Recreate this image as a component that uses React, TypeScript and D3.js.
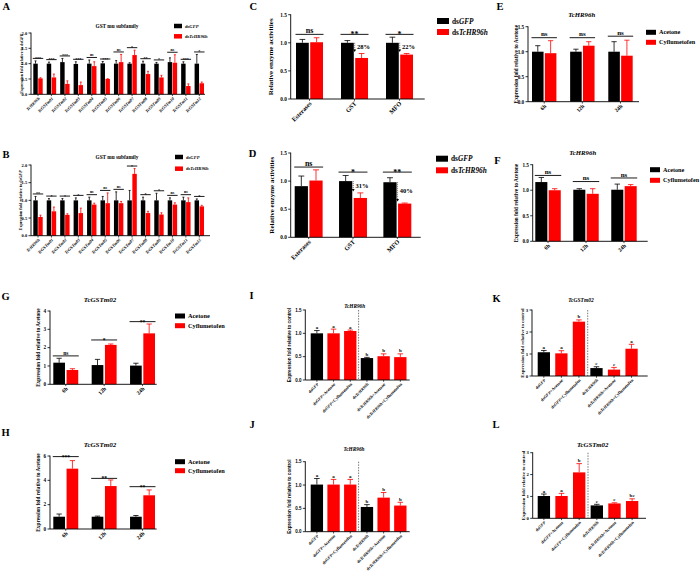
import React from "react";
import * as d3 from "d3";

const SERIF = "'Liberation Serif','Times New Roman',serif";
const SANS = "'Liberation Sans',Arial,sans-serif";
const BLACK = "#000000";
const RED = "#ff0000";

// ---------- Data ----------
const gstCategories = ["TcHR96h", "TcGSTm01", "TcGSTm02", "TcGSTm03", "TcGSTm04", "TcGSTm05", "TcGSTm06", "TcGSTm07", "TcGSTm08", "TcGSTm09", "TcGSTm10", "TcGSTm11", "TcGSTm12"];
const aGFP = [1.0, 1.0, 1.05, 0.99, 1.0, 1.01, 1.0, 1.0, 1.0, 1.0, 1.05, 1.0, 1.0];
const aGFPErr = [0.09, 0.05, 0.12, 0.07, 0.12, 0.06, 0.1, 0.03, 0.08, 0.04, 0.14, 0.06, 0.3];
const aKD = [0.52, 0.55, 0.34, 0.3, 0.92, 0.5, 1.05, 1.28, 0.66, 0.55, 1.03, 0.27, 0.36];
const aKDErr = [0.02, 0.11, 0.1, 0.1, 0.14, 0.01, 0.25, 0.16, 0.09, 0.07, 0.26, 0.07, 0.04];
const aSig = ["***", "***", "***", "***", "ns", "***", "ns", "*", "**", "*", "ns", "***", "*"];

const bGFP = [1.0, 1.0, 1.0, 1.0, 1.0, 1.0, 1.0, 1.0, 1.0, 1.0, 1.0, 1.0, 1.0];
const bGFPErr = [0.11, 0.05, 0.05, 0.07, 0.09, 0.11, 0.24, 0.28, 0.09, 0.2, 0.07, 0.09, 0.04];
const bKD = [0.53, 0.69, 0.59, 0.64, 0.88, 0.92, 0.92, 1.75, 0.64, 0.6, 0.88, 0.95, 0.83];
const bKDErr = [0.05, 0.12, 0.03, 0.14, 0.04, 0.29, 0.05, 0.15, 0.05, 0.05, 0.05, 0.12, 0.03];
const bSig = ["**", "*", "*", "*", "ns", "ns", "ns", "*", "*", "*", "ns", "ns", "*"];

const enzymeCategories = ["Esterases", "GST", "MFO"];
const cGFP = [1.0, 1.0, 1.0];
const cGFPErr = [0.06, 0.04, 0.1];
const cKD = [1.01, 0.73, 0.79];
const cKDErr = [0.08, 0.08, 0.02];
const cSig = ["ns", "**", "*"];
const cSigY = [1.15, 1.15, 1.15];
const cPct = ["", "28%", "22%"];

const dGFP = [0.91, 1.0, 0.98];
const dGFPErr = [0.18, 0.1, 0.08];
const dKD = [1.01, 0.7, 0.6];
const dKDErr = [0.19, 0.09, 0.01];
const dSig = ["ns", "*", "**"];
const dSigY = [1.25, 1.16, 1.16];
const dPct = ["", "31%", "40%"];

const timeCategories = ["6h", "12h", "24h"];
const eAcetone = [1.0, 1.0, 1.0];
const eAcetoneErr = [0.12, 0.05, 0.2];
const eCyf = [0.97, 1.12, 0.92];
const eCyfErr = [0.25, 0.08, 0.31];
const eSig = ["ns", "ns", "ns"];
const eSigY = [1.28, 1.28, 1.31];

const fAcetone = [1.16, 1.01, 1.01];
const fAcetoneErr = [0.09, 0.02, 0.11];
const fCyf = [1.0, 0.93, 1.08];
const fCyfErr = [0.03, 0.1, 0.03];
const fSig = ["ns", "ns", "ns"];
const fSigY = [1.29, 1.17, 1.24];

const gAcetone = [1.18, 1.05, 1.02];
const gAcetoneErr = [0.24, 0.31, 0.13];
const gCyf = [0.78, 2.15, 2.78];
const gCyfErr = [0.07, 0.05, 0.51];
const gSig = ["ns", "*", "**"];
const gSigY = [1.55, 2.42, 3.42];

const hAcetone = [1.01, 1.01, 1.01];
const hAcetoneErr = [0.22, 0.05, 0.1];
const hCyf = [4.96, 3.53, 2.77];
const hCyfErr = [0.66, 0.5, 0.44];
const hSig = ["***", "**", "**"];
const hSigY = [5.95, 4.16, 3.48];

const rescueCategories = ["dsGFP", "dsGFP+Acetone", "dsGFP+Cyflumetofen", "dsTcHR96h", "dsTcHR96h+Acetone", "dsTcHR96h+Cyflumetofen"];
const iValues = [1.0, 1.0, 1.05, 0.47, 0.51, 0.49];
const iErr = [0.06, 0.09, 0.02, 0.015, 0.05, 0.07];
const iLetters = ["a", "a", "a", "b", "b", "b"];
const jValues = [1.01, 1.01, 1.01, 0.53, 0.73, 0.56];
const jErr = [0.13, 0.11, 0.11, 0.05, 0.11, 0.07];
const jLetters = ["a", "a", "a", "b", "b", "b"];
const kValues = [1.08, 1.03, 2.47, 0.36, 0.29, 1.24];
const kErr = [0.08, 0.12, 0.08, 0.06, 0.1, 0.2];
const kLetters = ["a", "a", "b", "c", "c", "a"];
const lValues = [1.02, 1.02, 2.1, 0.59, 0.68, 0.79];
const lErr = [0.09, 0.12, 0.4, 0.05, 0.03, 0.1];
const lLetters = ["a", "a", "b", "c", "c", "bc"];

const ticks2 = [0, 0.5, 1, 1.5, 2];
const ticks15 = [0, 0.5, 1, 1.5];
const ticks4 = [0, 1, 2, 3, 4];
const ticks6 = [0, 2, 4, 6];
const ticks3 = [0, 1, 2, 3];

// ---------- helpers ----------
const ITAL = /^(GFP|TcHR96h|TcGSTm\d+)$/;
function rich(s: string) {
  return s
    .split(/(GFP|TcHR96h|TcGSTm\d+)/)
    .filter((p) => p !== "")
    .map((p, i) =>
      ITAL.test(p) ? (
        <tspan key={i} fontStyle="italic">{p}</tspan>
      ) : (
        <tspan key={i}>{p}</tspan>
      )
    );
}

interface SeriesCfg { name: string; values: number[]; errors: number[]; color?: string }
interface PanelCfg {
  key: string;
  letter: string; letterX: number; letterY: number;
  title?: string; titleX?: number; titleY?: number; titleSize?: number;
  x0: number; x1: number; bx0: number; bx1: number; yTop: number; yBot: number;
  yMax: number; ticks: number[]; tickFmt: string; tickSize: number; tickFont?: string;
  yLabel: string; yLabelX: number; yLabelSize: number; yLabelFont?: string;
  categories: string[]; catSize: number; catItalicAll?: boolean;
  series: SeriesCfg[]; padInner: number; padSeries?: number;
  sig?: string[]; sigY?: number[]; sigSize?: number;
  letters?: string[]; lettersSize?: number;
  divider?: boolean;
  pct?: string[]; pctSize?: number;
  legend?: { x: number; y: number; gap: number; w: number; h: number; size: number };
}

function Panel({ c }: { c: PanelCfg }) {
  const y = d3.scaleLinear().domain([0, c.yMax]).range([c.yBot, c.yTop]);
  const x = d3.scaleBand<string>().domain(c.categories).range([c.bx0, c.bx1]).paddingInner(c.padInner).paddingOuter(0);
  const nS = c.series.length;
  const inner = d3
    .scaleBand<number>()
    .domain(d3.range(nS))
    .range([0, x.bandwidth()])
    .paddingInner(nS > 1 ? c.padSeries ?? 0.15 : 0);
  const fmt = d3.format(c.tickFmt);
  const tickFont = c.tickFont ?? SERIF;
  const colorOf = (s: SeriesCfg, cat: string) => s.color ?? (cat.includes("+") ? RED : BLACK);
  const bw = inner.bandwidth();
  const els: React.ReactNode[] = [];

  // bars + error bars
  c.categories.forEach((cat, i) => {
    c.series.forEach((s, si) => {
      const bx = (x(cat) as number) + (inner(si) as number);
      const v = s.values[i];
      const e = s.errors[i];
      const col = colorOf(s, cat);
      const cx = bx + bw / 2;
      const cap = Math.max(bw * 0.45, 2);
      els.push(<rect key={`b${i}-${si}`} x={bx} y={y(v)} width={bw} height={c.yBot - y(v)} fill={col} />);
      els.push(<line key={`e${i}-${si}`} x1={cx} x2={cx} y1={y(v)} y2={y(v + e)} stroke={col} strokeWidth={0.8} />);
      els.push(<line key={`c${i}-${si}`} x1={cx - cap / 2} x2={cx + cap / 2} y1={y(v + e)} y2={y(v + e)} stroke={col} strokeWidth={0.8} />);
      if (c.letters) {
        els.push(
          <text key={`l${i}`} x={cx} y={y(v + e) - 1.5} textAnchor="middle" fontSize={c.lettersSize} fontFamily={SERIF} fontWeight="bold">
            {c.letters[i]}
          </text>
        );
      }
    });
  });

  // significance lines
  if (c.sig) {
    c.categories.forEach((cat, i) => {
      const gx0 = x(cat) as number;
      const gx1 = gx0 + x.bandwidth();
      const topVal = d3.max(c.series, (s) => s.values[i] + s.errors[i]) as number;
      const ly = c.sigY ? y(c.sigY[i]) : y(topVal) - 2.5;
      const t = c.sig![i];
      const fs = c.sigSize ?? 6;
      els.push(<line key={`sl${i}`} x1={gx0 - 0.5} x2={gx1 + 0.5} y1={ly} y2={ly} stroke={BLACK} strokeWidth={0.9} />);
      els.push(
        <text key={`st${i}`} x={(gx0 + gx1) / 2} y={t === "ns" ? ly - 1.3 : ly + fs * 0.38} textAnchor="middle" fontSize={fs} fontFamily={SERIF} fontWeight="bold">
          {t}
        </text>
      );
    });
  }

  // percent arrows
  if (c.pct) {
    c.categories.forEach((cat, i) => {
      const t = c.pct![i];
      if (!t) return;
      const ax = (x(cat) as number) + (inner(1) as number) - 0.5;
      const y1 = y(c.series[0].values[i]);
      const y2 = y(c.series[1].values[i] + c.series[1].errors[i]) - 1.5;
      els.push(<line key={`pa${i}`} x1={ax} x2={ax} y1={y1} y2={y2 - 2} stroke={BLACK} strokeWidth={0.6} strokeDasharray="1,1" />);
      els.push(<path key={`ph${i}`} d={`M${ax - 1.4},${y2 - 2.5}L${ax + 1.4},${y2 - 2.5}L${ax},${y2}Z`} fill={BLACK} />);
      els.push(
        <text key={`pt${i}`} x={ax + 2.3} y={(y1 + y2) / 2 - 1} dy="0.35em" fontSize={c.pctSize} fontFamily={SERIF} fontWeight="bold">
          {t}
        </text>
      );
    });
  }

  // divider
  if (c.divider) {
    const xa = (x(c.categories[2]) as number) + x.bandwidth();
    const xb = x(c.categories[3]) as number;
    const dx = (xa + xb) / 2;
    els.push(<line key="div" x1={dx} x2={dx} y1={y(c.yMax)} y2={c.yBot} stroke="#444" strokeWidth={0.7} strokeDasharray="1.5,1.2" />);
  }

  // axes
  const axis: React.ReactNode[] = [];
  axis.push(<line key="ya" x1={c.x0} x2={c.x0} y1={c.yTop - 0.4} y2={c.yBot} stroke={BLACK} strokeWidth={0.9} />);
  axis.push(<line key="xa" x1={c.x0} x2={c.x1} y1={c.yBot} y2={c.yBot} stroke={BLACK} strokeWidth={0.9} />);
  c.ticks.forEach((t, i) => {
    axis.push(<line key={`yt${i}`} x1={c.x0 - 2.5} x2={c.x0} y1={y(t)} y2={y(t)} stroke={BLACK} strokeWidth={0.8} />);
    axis.push(
      <text key={`yl${i}`} x={c.x0 - 3.8} y={y(t)} dy="0.35em" textAnchor="end" fontSize={c.tickSize} fontFamily={tickFont} fontWeight="bold">
        {fmt(t)}
      </text>
    );
  });
  c.categories.forEach((cat, i) => {
    const cx = (x(cat) as number) + x.bandwidth() / 2;
    axis.push(<line key={`xt${i}`} x1={cx} x2={cx} y1={c.yBot} y2={c.yBot + 1.8} stroke={BLACK} strokeWidth={0.7} />);
    const px = cx + 1;
    const py = c.yBot + 3.5;
    axis.push(
      <g key={`xl${i}`} transform={`translate(${px},${py}) rotate(-45)`}>
        <text
          x={0}
          y={0}
          dy="0.35em"
          textAnchor="end"
          fontSize={c.catSize}
          fontFamily={SERIF}
          fontWeight="bold"
          fontStyle={c.catItalicAll ? "italic" : "normal"}
        >
          {c.catItalicAll ? cat : rich(cat)}
        </text>
      </g>
    );
  });
  const ym = (c.yTop + c.yBot) / 2;
  axis.push(
    <g key="ylab" transform={`translate(${c.yLabelX},${ym}) rotate(-90)`}>
      <text x={0} y={0} dy="0.35em" textAnchor="middle" fontSize={c.yLabelSize} fontFamily={c.yLabelFont ?? SERIF} fontWeight="bold">
        {rich(c.yLabel)}
      </text>
    </g>
  );

  // legend
  const leg: React.ReactNode[] = [];
  if (c.legend) {
    const L = c.legend;
    c.series.forEach((s, si) => {
      const ly = L.y + si * L.gap;
      leg.push(<rect key={`lr${si}`} x={L.x} y={ly - L.h / 2} width={L.w} height={L.h} fill={s.color ?? BLACK} />);
      leg.push(
        <text key={`lt${si}`} x={L.x + L.w + 3} y={ly} dy="0.35em" fontSize={L.size} fontFamily={SERIF} fontWeight="bold">
          {rich(s.name)}
        </text>
      );
    });
  }

  return (
    <g>
      <text x={c.letterX} y={c.letterY} fontSize={10.5} fontFamily={SERIF} fontWeight="bold">
        {c.letter}
      </text>
      {c.title && (
        <text x={c.titleX} y={c.titleY} textAnchor="middle" fontSize={c.titleSize} fontFamily={SERIF} fontWeight="bold">
          {rich(c.title)}
        </text>
      )}
      {els}
      {axis}
      {leg}
    </g>
  );
}

// ---------- Panel configurations ----------
const panels: PanelCfg[] = [
  {
    key: "A", letter: "A", letterX: 2.5, letterY: 10,
    title: "GST mu subfamily", titleX: 117, titleY: 27.8, titleSize: 5.3,
    x0: 31, x1: 205, bx0: 33.3, bx1: 204, yTop: 33, yBot: 94.3, yMax: 2,
    ticks: ticks2, tickFmt: ".1f", tickSize: 4.5,
    yLabel: "Expression fold relative to dsGFP", yLabelX: 21.5, yLabelSize: 4.2,
    categories: gstCategories, catSize: 4.3, catItalicAll: true,
    series: [
      { name: "dsGFP", values: aGFP, errors: aGFPErr, color: BLACK },
      { name: "dsTcHR96h", values: aKD, errors: aKDErr, color: RED },
    ],
    padInner: 0.3, padSeries: 0.1, sig: aSig, sigSize: 4,
    legend: { x: 174, y: 26, gap: 10.3, w: 8, h: 4.5, size: 4.6 },
  },
  {
    key: "B", letter: "B", letterX: 2.5, letterY: 157.5,
    title: "GST mu subfamily", titleX: 117, titleY: 159, titleSize: 5.3,
    x0: 31, x1: 210, bx0: 33.3, bx1: 204, yTop: 165, yBot: 235.7, yMax: 2,
    ticks: ticks2, tickFmt: ".1f", tickSize: 4.5,
    yLabel: "Expression fold  relative to dsGFP", yLabelX: 20.7, yLabelSize: 4.2,
    categories: gstCategories, catSize: 4.3, catItalicAll: true,
    series: [
      { name: "dsGFP", values: bGFP, errors: bGFPErr, color: BLACK },
      { name: "dsTcHR96h", values: bKD, errors: bKDErr, color: RED },
    ],
    padInner: 0.3, padSeries: 0.1, sig: bSig, sigSize: 4,
    legend: { x: 175, y: 157, gap: 11.7, w: 8, h: 4.5, size: 4.6 },
  },
  {
    key: "C", letter: "C", letterX: 249.5, letterY: 9.5,
    x0: 290.7, x1: 424.7, bx0: 296, bx1: 413, yTop: 14.7, yBot: 99, yMax: 1.5,
    ticks: ticks15, tickFmt: ".1f", tickSize: 5.3,
    yLabel: "Relative enzyme activities", yLabelX: 270.7, yLabelSize: 7,
    categories: enzymeCategories, catSize: 6.3,
    series: [
      { name: "dsGFP", values: cGFP, errors: cGFPErr, color: BLACK },
      { name: "dsTcHR96h", values: cKD, errors: cKDErr, color: RED },
    ],
    padInner: 0.4, padSeries: 0.1, sig: cSig, sigY: cSigY, sigSize: 8,
    pct: cPct, pctSize: 6.5,
    legend: { x: 437, y: 21, gap: 11, w: 12, h: 6, size: 7.3 },
  },
  {
    key: "D", letter: "D", letterX: 248.7, letterY: 157,
    x0: 290.7, x1: 420.7, bx0: 294.7, bx1: 411.3, yTop: 153, yBot: 237.3, yMax: 1.5,
    ticks: ticks15, tickFmt: ".1f", tickSize: 5.3,
    yLabel: "Relative enzyme activities", yLabelX: 271.3, yLabelSize: 7,
    categories: enzymeCategories, catSize: 6.3,
    series: [
      { name: "dsGFP", values: dGFP, errors: dGFPErr, color: BLACK },
      { name: "dsTcHR96h", values: dKD, errors: dKDErr, color: RED },
    ],
    padInner: 0.37, padSeries: 0.1, sig: dSig, sigY: dSigY, sigSize: 8,
    pct: dPct, pctSize: 6.5,
    legend: { x: 436, y: 158.7, gap: 11.6, w: 12, h: 6, size: 7.3 },
  },
  {
    key: "E", letter: "E", letterX: 496.5, letterY: 9.5,
    title: "TcHR96h", titleX: 581.7, titleY: 17, titleSize: 6.8,
    x0: 528, x1: 639, bx0: 532, bx1: 632.7, yTop: 26.7, yBot: 101.7, yMax: 1.5,
    ticks: ticks15, tickFmt: ".1f", tickSize: 5.2,
    yLabel: "Expression fold relative to Acetone", yLabelX: 516, yLabelSize: 5.3,
    categories: timeCategories, catSize: 5.5,
    series: [
      { name: "Acetone", values: eAcetone, errors: eAcetoneErr, color: BLACK },
      { name: "Cyflumetofen", values: eCyf, errors: eCyfErr, color: RED },
    ],
    padInner: 0.36, padSeries: 0.1, sig: eSig, sigY: eSigY, sigSize: 7,
    legend: { x: 646, y: 32.3, gap: 10, w: 10, h: 5, size: 6.2 },
  },
  {
    key: "F", letter: "F", letterX: 494.3, letterY: 164,
    title: "TcHR96h", titleX: 582.7, titleY: 155, titleSize: 6.8,
    x0: 532.7, x1: 647.7, bx0: 535.3, bx1: 636.7, yTop: 164.7, yBot: 241.3, yMax: 1.5,
    ticks: ticks15, tickFmt: ".1f", tickSize: 5.2,
    yLabel: "Expression fold relative to Acetone", yLabelX: 516, yLabelSize: 5.3,
    categories: timeCategories, catSize: 5.5,
    series: [
      { name: "Acetone", values: fAcetone, errors: fAcetoneErr, color: BLACK },
      { name: "Cyflumetofen", values: fCyf, errors: fCyfErr, color: RED },
    ],
    padInner: 0.33, padSeries: 0.1, sig: fSig, sigY: fSigY, sigSize: 7,
    legend: { x: 650, y: 169.7, gap: 10.6, w: 10, h: 5, size: 6.2 },
  },
  {
    key: "G", letter: "G", letterX: 1.5, letterY: 299.5,
    title: "TcGSTm02", titleX: 100, titleY: 302, titleSize: 7,
    x0: 50, x1: 156.7, bx0: 53.3, bx1: 155, yTop: 311, yBot: 384.3, yMax: 4,
    ticks: ticks4, tickFmt: "d", tickSize: 5.2,
    yLabel: "Expression fold relative to Acetone", yLabelX: 37.7, yLabelSize: 5.3,
    categories: timeCategories, catSize: 5.5,
    series: [
      { name: "Acetone", values: gAcetone, errors: gAcetoneErr, color: BLACK },
      { name: "Cyflumetofen", values: gCyf, errors: gCyfErr, color: RED },
    ],
    padInner: 0.35, padSeries: 0.12, sig: gSig, sigY: gSigY, sigSize: 5.5,
    legend: { x: 175, y: 316, gap: 9.7, w: 10, h: 5, size: 6.3 },
  },
  {
    key: "H", letter: "H", letterX: 1.5, letterY: 436,
    title: "TcGSTm02", titleX: 100, titleY: 446.5, titleSize: 7,
    x0: 50, x1: 156.7, bx0: 53.3, bx1: 155, yTop: 456, yBot: 529, yMax: 6,
    ticks: ticks6, tickFmt: "d", tickSize: 5.2,
    yLabel: "Expression fold relative to Acetone", yLabelX: 37.7, yLabelSize: 5.3,
    categories: timeCategories, catSize: 5.5,
    series: [
      { name: "Acetone", values: hAcetone, errors: hAcetoneErr, color: BLACK },
      { name: "Cyflumetofen", values: hCyf, errors: hCyfErr, color: RED },
    ],
    padInner: 0.35, padSeries: 0.12, sig: hSig, sigY: hSigY, sigSize: 5.5,
    legend: { x: 175, y: 461.7, gap: 9, w: 10, h: 5, size: 6.3 },
  },
  {
    key: "I", letter: "I", letterX: 249.5, letterY: 299,
    title: "TcHR96h", titleX: 354.7, titleY: 308, titleSize: 5.3,
    x0: 305.3, x1: 409.7, bx0: 310.7, bx1: 406.5, yTop: 310, yBot: 380, yMax: 1.5,
    ticks: ticks15, tickFmt: ".1f", tickSize: 4.5, tickFont: SANS,
    yLabel: "Expression fold  relative to control", yLabelX: 289.7, yLabelSize: 4.6, yLabelFont: SANS,
    categories: rescueCategories, catSize: 4.3,
    series: [{ name: "value", values: iValues, errors: iErr }],
    padInner: 0.26, letters: iLetters, lettersSize: 5, divider: true,
  },
  {
    key: "J", letter: "J", letterX: 249.5, letterY: 428.3,
    title: "TcHR96h", titleX: 354, titleY: 451, titleSize: 5.3,
    x0: 305.3, x1: 409.7, bx0: 310.7, bx1: 406.5, yTop: 461.7, yBot: 531.7, yMax: 1.5,
    ticks: ticks15, tickFmt: ".1f", tickSize: 4.5, tickFont: SANS,
    yLabel: "Expression fold  relative to control", yLabelX: 289.7, yLabelSize: 4.6, yLabelFont: SANS,
    categories: rescueCategories, catSize: 4.3,
    series: [{ name: "value", values: jValues, errors: jErr }],
    padInner: 0.26, letters: jLetters, lettersSize: 5, divider: true,
  },
  {
    key: "K", letter: "K", letterX: 492.5, letterY: 301.7,
    title: "TcGSTm02", titleX: 581, titleY: 302, titleSize: 5.5,
    x0: 532, x1: 647.7, bx0: 537.7, bx1: 637.7, yTop: 310, yBot: 376, yMax: 3,
    ticks: ticks3, tickFmt: "d", tickSize: 4.8,
    yLabel: "Expression fold  relative to control", yLabelX: 522.7, yLabelSize: 4.8,
    categories: rescueCategories, catSize: 4.3,
    series: [{ name: "value", values: kValues, errors: kErr }],
    padInner: 0.3, letters: kLetters, lettersSize: 5, divider: true,
  },
  {
    key: "L", letter: "L", letterX: 492.5, letterY: 428.3,
    title: "TcGSTm02", titleX: 592.7, titleY: 446.5, titleSize: 6.8,
    x0: 532.7, x1: 646, bx0: 537.7, bx1: 638.3, yTop: 452.7, yBot: 518.3, yMax: 3,
    ticks: ticks3, tickFmt: "d", tickSize: 4.8,
    yLabel: "Expression fold  relative to control", yLabelX: 523.3, yLabelSize: 4.8,
    categories: rescueCategories, catSize: 4.3,
    series: [{ name: "value", values: lValues, errors: lErr }],
    padInner: 0.3, letters: lLetters, lettersSize: 5, divider: true,
  },
];

export default function App() {
  return (
    <svg
      width={700}
      height={581}
      viewBox="0 0 700 581"
      style={{ position: "absolute", left: 0, top: 0, background: "#ffffff" }}
    >
      <rect x={0} y={0} width={700} height={581} fill="#ffffff" />
      {panels.map((p) => (
        <Panel key={p.key} c={p} />
      ))}
    </svg>
  );
}
